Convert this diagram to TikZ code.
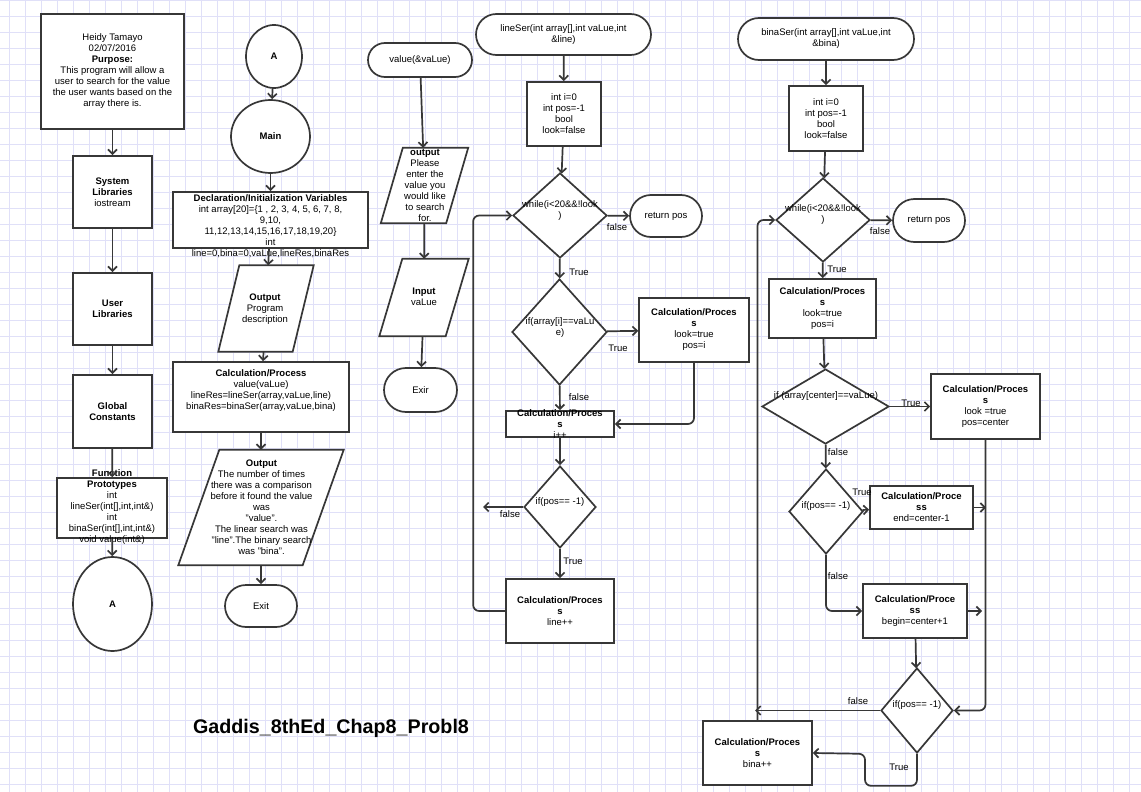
\documentclass[tikz,border=0pt]{standalone}
\usepackage{fontspec}
\setmainfont{Liberation Sans}
\usetikzlibrary {shapes.geometric}
\usetikzlibrary {shapes.misc}
\usetikzlibrary {arrows.meta}

\definecolor{inkgray}{RGB}{55,55,55}
\definecolor{gridblue}{RGB}{224,224,248}

\begin{document}
\begin{tikzpicture}[x=1pt, y=-1pt,
            every node/.style={font=\fontsize{9.5}{11}\selectfont},
            procbox/.style={rectangle, draw=inkgray, line width=1.7pt, fill=white, align=center, inner sep=1pt},
            termbox/.style={rounded rectangle, draw=inkgray, line width=1.7pt, fill=white, align=center, inner sep=1pt},
            iobox/.style={rectangle, inner sep=0pt},
            ioline/.style={draw=inkgray, line width=1.7pt, fill=white},
            decbox/.style={diamond, draw=inkgray, line width=1.7pt, fill=white, inner sep=0pt},
            connbox/.style={ellipse, draw=inkgray, line width=1.7pt, fill=white, font=\fontsize{9.5}{11}\selectfont\bfseries},
            txt/.style={align=center, inner sep=0pt},
            lbl/.style={inner sep=0pt},
            flow/.style={draw=inkgray, line width=1.7pt, arrows=-{Straight Barb[length=4.5pt,width=9pt]}},
            gridline/.style={draw=gridblue, line width=0.7pt}]

            % \draw [red] (0,0) rectangle (1141,792);
            \useasboundingbox (0,0) rectangle (1141,792);
            \fill[white] (0,0) rectangle (1141,792);
            \foreach \gx in {9,25,...,1141} \draw[gridline] (\gx,0) -- (\gx,792);
            \foreach \gy in {0,16,...,792} \draw[gridline] (0,\gy) -- (1141,\gy);

            \path   (112.5,71.5) node (hdr) [procbox, minimum width=143, minimum height=115] {Heidy Tamayo\\02/07/2016\\\textbf{Purpose:}\\This program will allow a\\user to search for the value\\the user wants based on the\\array there is.}
                    (112.5,192) node (syslib) [procbox, minimum width=79, minimum height=72] {\textbf{System}\\\textbf{Libraries}\\iostream}
                    (112.5,309) node (usrlib) [procbox, minimum width=79, minimum height=72] {\textbf{User}\\\textbf{Libraries}}
                    (112.5,411.5) node (glob) [procbox, minimum width=79, minimum height=73] {\textbf{Global}\\\textbf{Constants}}
                    (112,508) node (proto) [procbox, minimum width=110, minimum height=60] {}
                    (112.5,604) node (conA2) [connbox, minimum width=79, minimum height=94] {A}
                    (274,56.5) node (conA1) [connbox, minimum width=56, minimum height=63] {A}
                    (270.5,136.5) node (main) [connbox, minimum width=79, minimum height=73] {Main}
                    (270.5,220) node (decl) [procbox, minimum width=195, minimum height=56] {}
                    (266,308.5) node (out1) [iobox, minimum width=74, minimum height=86] {}
                    (261,397) node (calc1) [procbox, minimum width=176, minimum height=70] {}
                    (261,507.5) node (out2) [iobox, minimum width=124, minimum height=115] {}
                    (261,606) node (exit1) [termbox, minimum width=74, minimum height=42] {Exit}
                    (420,60) node (valterm) [termbox, minimum width=106, minimum height=34] {value(\&vaLue)}
                    (424.5,185.5) node (out3) [iobox, minimum width=65, minimum height=75] {}
                    (424,297.5) node (inp) [iobox, minimum width=66, minimum height=77] {}
                    (420.5,390) node (exir) [termbox, minimum width=75, minimum height=44] {Exir}
                    (563.5,34.5) node (lterm) [termbox, minimum width=177, minimum height=41] {lineSer(int array[],int vaLue,int\\\&line)}
                    (564,114) node (linit) [procbox, minimum width=74, minimum height=64] {int i=0\\int pos=-1\\bool\\look=false}
                    (560,215.5) node (lwhile) [decbox, minimum width=94, minimum height=85] {}
                    (666,216) node (lret) [termbox, minimum width=74, minimum height=42] {return pos}
                    (559.5,332) node (lif) [decbox, minimum width=95, minimum height=106] {}
                    (694,330) node (lfound) [procbox, minimum width=110, minimum height=64] {\textbf{Calculation/Proces}\\\textbf{s}\\look=true\\pos=i}
                    (560,424) node (linc) [procbox, minimum width=108, minimum height=26] {}
                    (560,507) node (lpos) [decbox, minimum width=72, minimum height=82] {}
                    (560,611) node (lline) [procbox, minimum width=108, minimum height=64] {\textbf{Calculation/Proces}\\\textbf{s}\\line++}
                    (826,39) node (bterm) [termbox, minimum width=178, minimum height=42] {binaSer(int array[],int vaLue,int\\\&bina)}
                    (826,118.5) node (binit) [procbox, minimum width=74, minimum height=65] {int i=0\\int pos=-1\\bool\\look=false}
                    (823,220) node (bwhile) [decbox, minimum width=94, minimum height=84] {}
                    (929,220.5) node (bret) [termbox, minimum width=74, minimum height=43] {return pos}
                    (822.5,308.5) node (bfound) [procbox, minimum width=107, minimum height=59] {\textbf{Calculation/Proces}\\\textbf{s}\\look=true\\pos=i}
                    (825.5,406.5) node (bif) [decbox, minimum width=127, minimum height=75] {}
                    (985.5,406.5) node (bfound2) [procbox, minimum width=109, minimum height=65] {\textbf{Calculation/Proces}\\\textbf{s}\\look =true\\pos=center}
                    (826,511.5) node (bpos) [decbox, minimum width=74, minimum height=85] {}
                    (921.5,507.5) node (bend) [procbox, minimum width=103, minimum height=43] {\textbf{Calculation/Proce}\\\textbf{ss}\\end=center-1}
                    (915,611) node (bbeg) [procbox, minimum width=104, minimum height=54] {\textbf{Calculation/Proce}\\\textbf{ss}\\begin=center+1}
                    (917,710.5) node (bpos2) [decbox, minimum width=72, minimum height=85] {}
                    (757.5,753) node (bbina) [procbox, minimum width=109, minimum height=64] {\textbf{Calculation/Proces}\\\textbf{s}\\bina++}
                    (331,728) node (ttl) [font=\fontsize{19.7}{24}\selectfont\bfseries] {Gaddis\_8thEd\_Chap8\_Probl8};

            % slanted input/output boxes
            \foreach \io/\sl in {out1/21, out2/41, out3/22, inp/23}
                \draw[ioline] ([xshift=-\sl/2]\io.south west) -- ([xshift=\sl/2]\io.north west) -- ([xshift=\sl/2]\io.north east) -- ([xshift=-\sl/2]\io.south east) -- cycle;

            % texts that run over their boxes
            \path   (112,507) node (prototxt) [txt] {\textbf{Function}\\\textbf{Prototypes}\\int\\lineSer(int[],int,int\&)\\int\\binaSer(int[],int,int\&)\\void value(int\&)}
                    (270.5,226) node (decltxt) [txt] {\textbf{Declaration/Initialization Variables}\\int array[20]=\{1 , 2, 3, 4, 5, 6, 7, 8,\\9,10,\\11,12,13,14,15,16,17,18,19,20\}\\int\\line=0,bina=0,vaLue,lineRes,binaRes}
                    (265,309) node (out1txt) [txt] {\textbf{Output}\\Program\\description}
                    (261,391) node (calc1txt) [txt] {\textbf{Calculation/Process}\\value(vaLue)\\lineRes=lineSer(array,vaLue,line)\\binaRes=binaSer(array,vaLue,bina)}
                    (261.5,507) node (out2txt) [txt] {\textbf{Output}\\The number of times\\there was a comparison\\before it found the value\\was\\"value".\\The linear search was\\"line".The binary search\\was "bina".}
                    (425,185) node (out3txt) [txt] {\textbf{output}\\Please\\enter the\\value you\\would like\\to search\\for.}
                    (424,297) node (inptxt) [txt] {\textbf{Input}\\vaLue}
                    (560,210.5) node (lwhiletxt) [txt] {while(i<20\&\&!look\\)}
                    (560,327.5) node (liftxt) [txt] {if(array[i]==vaLu\\e)}
                    (560,424) node (linctxt) [txt] {\textbf{Calculation/Proces}\\\textbf{s}\\i++}
                    (560,502) node (lpostxt) [txt] {if(pos== -1)}
                    (823,214.5) node (bwhiletxt) [txt] {while(i<20\&\&!look\\)}
                    (826,396) node (biftxt) [txt] {if (array[center]==vaLue)}
                    (826,506) node (bpostxt) [txt] {if(pos== -1)}
                    (917,705) node (bpos2txt) [txt] {if(pos== -1)};

            \path   (617,227) node (lwf) [lbl] {false}
                    (579,272) node (lwt) [lbl] {True}
                    (618,348) node (lift) [lbl] {True}
                    (579,397) node (liff) [lbl] {false}
                    (510,514) node (lpf) [lbl] {false}
                    (573,561) node (lpt) [lbl] {True}
                    (880,231) node (bwf) [lbl] {false}
                    (837,269) node (bwt) [lbl] {True}
                    (911,403) node (bit) [lbl] {True}
                    (838,452) node (biff) [lbl] {false}
                    (862,492) node (bpt) [lbl] {True}
                    (838,576) node (bpf) [lbl] {false}
                    (858,701) node (bp2f) [lbl] {false}
                    (899,767) node (bp2t) [lbl] {True};

            \coordinate (lpend) at (483,507);
            \coordinate (bendtip) at (986,507.5);
            \coordinate (bbegtip) at (982,611);
            \coordinate (bp2end) at (755,710.5);

            \draw[flow] (node cs: name=hdr) -- (node cs: name=syslib);
            \draw[flow] (node cs: name=syslib) -- (node cs: name=usrlib);
            \draw[flow] (node cs: name=usrlib) -- (node cs: name=glob);
            \draw[flow] (node cs: name=glob) -- (node cs: name=proto);
            \draw[flow] (node cs: name=proto) -- (node cs: name=conA2);

            \draw[flow] (node cs: name=conA1) -- (node cs: name=main);
            \draw[flow] (node cs: name=main) -- (node cs: name=decl);
            \draw[flow] (node cs: name=decl) -- (node cs: name=out1);
            \draw[flow] (node cs: name=out1) -- (node cs: name=calc1);
            \draw[flow] (node cs: name=calc1) -- (node cs: name=out2);
            \draw[flow] (node cs: name=out2) -- (node cs: name=exit1);

            \draw[flow] (node cs: name=valterm) -- (node cs: name=out3);
            \draw[flow] (node cs: name=out3) -- (node cs: name=inp);
            \draw[flow] (node cs: name=inp) -- (node cs: name=exir);

            \draw[flow] (node cs: name=lterm) -- (node cs: name=linit);
            \draw[flow] (node cs: name=linit) -- (node cs: name=lwhile);
            \draw[flow] (node cs: name=lwhile) -- (node cs: name=lret);
            \draw[flow] (node cs: name=lwhile) -- (node cs: name=lif);
            \draw[flow] (node cs: name=lif) -- (node cs: name=lfound);
            \draw[flow] (node cs: name=lif) -- (node cs: name=linc);
            \draw[flow, rounded corners=6] (node cs: name=lfound, anchor=south) |- (node cs: name=linc, anchor=east);
            \draw[flow] (node cs: name=linc) -- (node cs: name=lpos);
            \draw[flow] (node cs: name=lpos, anchor=west) -- (lpend);
            \draw[flow] (node cs: name=lpos) -- (node cs: name=lline);
            \draw[flow, rounded corners=6] (node cs: name=lline, anchor=west) -- ++(-32,0) |- (node cs: name=lwhile, anchor=west);

            \draw[flow] (node cs: name=bterm) -- (node cs: name=binit);
            \draw[flow] (node cs: name=binit) -- (node cs: name=bwhile);
            \draw[flow] (node cs: name=bwhile) -- (node cs: name=bret);
            \draw[flow] (node cs: name=bwhile) -- (node cs: name=bfound);
            \draw[flow] (node cs: name=bfound) -- (node cs: name=bif);
            \draw[flow] (node cs: name=bif) -- (node cs: name=bfound2);
            \draw[flow] (node cs: name=bif) -- (node cs: name=bpos);
            \draw[flow] (node cs: name=bpos) -- (node cs: name=bend);
            \draw[flow] (node cs: name=bend, anchor=east) -- (bendtip);
            \draw[flow, rounded corners=6] (node cs: name=bpos, anchor=south) |- (node cs: name=bbeg, anchor=west);
            \draw[flow] (node cs: name=bbeg, anchor=east) -- (bbegtip);
            \draw[flow] (node cs: name=bbeg) -- (node cs: name=bpos2);
            \draw[flow, rounded corners=6] (node cs: name=bfound2, anchor=south) |- (node cs: name=bpos2, anchor=east);
            \draw[flow] (node cs: name=bpos2, anchor=west) -- (bp2end);
            \draw[flow, rounded corners=6] (node cs: name=bpos2, anchor=south) -- ++(0,32) -| ++(-52,-32) -- (node cs: name=bbina, anchor=east);
            \draw[flow, rounded corners=6] (node cs: name=bbina, anchor=north) |- (node cs: name=bwhile, anchor=west);

\end{tikzpicture}
\end{document}
